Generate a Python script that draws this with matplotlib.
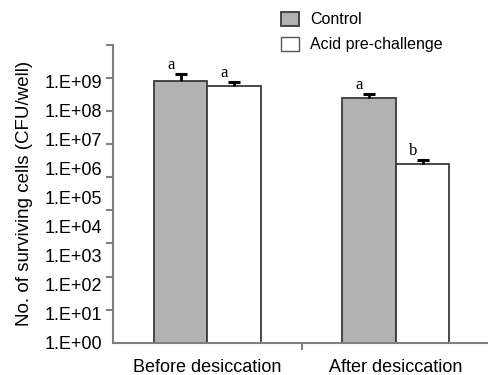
import numpy as np
import matplotlib.pyplot as plt
from matplotlib.patches import Patch
from matplotlib.ticker import NullFormatter

plt.rcParams["font.family"] = ["Liberation Sans", "DejaVu Sans"]

groups = ["Before desiccation", "After desiccation"]
control = [1.08e9, 2.8e8]
control_err = [7.7e8, 0.8e8]
acid = [7.3e8, 1.42e6]
acid_err = [2.5e8, 0.58e6]
control_sig = ["a", "a"]
acid_sig = ["a", "b"]
series = ["Control", "Acid pre-challenge"]
ytick_labels = ["1.E+%02d" % k for k in range(10)]

fig = plt.figure(figsize=(4.88, 3.75), dpi=100)
ax = fig.add_axes([0.2316, 0.0861, 0.7725, 0.7939])

x = np.arange(len(groups))
w = 0.284
edge = "#3a3a3a"
b1 = ax.bar(x - w / 2, control, w, bottom=1, color="#b2b2b2", edgecolor=edge, linewidth=1.3, zorder=2)
b2 = ax.bar(x + w / 2, acid, w, bottom=1, color="white", edgecolor=edge, linewidth=1.3, zorder=2)

for xs, vals, errs, sig in [(x - w / 2, control, control_err, control_sig),
                            (x + w / 2, acid, acid_err, acid_sig)]:
    eb = ax.errorbar(xs, vals, yerr=[np.zeros(len(vals)), errs], fmt="none",
                     ecolor="black", elinewidth=2, capsize=4.5, capthick=2.2, zorder=3)
    eb[1][0].set_visible(False)
    for xi, v, e, s in zip(xs, vals, errs, sig):
        ax.annotate(s, (xi, v + e), xytext=(-7, 6.5), textcoords="offset points",
                    ha="center", va="center", fontsize=12, family="Liberation Serif")

ax.set_yscale("log")
top = 10 ** 10.26
ax.set_ylim(1, top)
ax.set_xlim(-0.5, 1.5)

ax.set_yticks([10.0 ** k for k in range(10)])
ax.set_yticklabels(ytick_labels)
ax.set_yticks(10 ** np.linspace(0, 10.26, 10), minor=True)
ax.yaxis.set_minor_formatter(NullFormatter())
ax.tick_params(axis="y", which="major", length=0, pad=8, labelsize=13)
ax.tick_params(axis="y", which="minor", length=5, width=1.5, color="#808080")

ax.set_xticks(x)
ax.set_xticklabels(groups)
ax.set_xticks([0.5], minor=True)
ax.xaxis.set_minor_formatter(NullFormatter())
ax.tick_params(axis="x", which="major", length=0, pad=12, labelsize=13)
ax.tick_params(axis="x", which="minor", length=5, width=1.5, color="#808080")

for s in ["top", "right"]:
    ax.spines[s].set_visible(False)
for s in ["left", "bottom"]:
    ax.spines[s].set_color("#808080")
    ax.spines[s].set_linewidth(1.5)

ax.set_ylabel("No. of surviving cells (CFU/well)", fontsize=13.5, labelpad=8)

handles = [Patch(facecolor="#b2b2b2", edgecolor=edge, linewidth=1.3),
           Patch(facecolor="white", edgecolor="#555555", linewidth=1.0)]
fig.legend(handles, series, loc="upper left", bbox_to_anchor=(0.575, 0.968),
           frameon=False, fontsize=11.5, handlelength=1.13, handleheight=0.94,
           handletextpad=0.7, labelspacing=0.6, borderpad=0, borderaxespad=0)

fig.savefig("out.png", dpi=100)
